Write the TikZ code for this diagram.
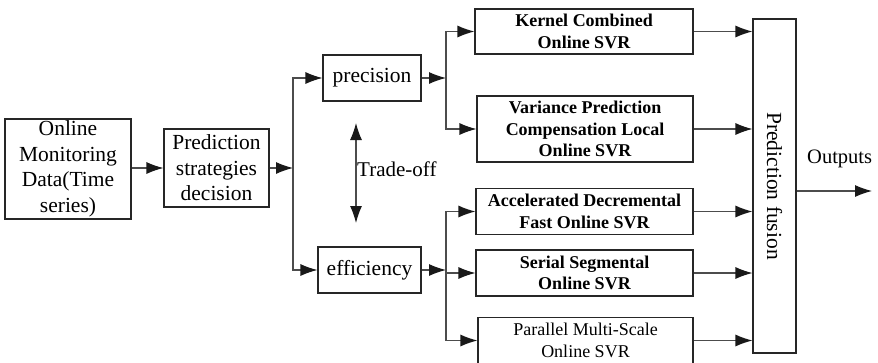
\documentclass[tikz,border=0pt]{standalone}
\usepackage{fontspec}
\setmainfont{Liberation Serif}
\usetikzlibrary{arrows.meta}

\tikzset{
  tip/.tip={Latex[length=17pt,width=12pt,black!90]},
  box/.style={draw=black!85, line width=1.1pt, fill=white, inner sep=0pt, align=center,
              font=\fontsize{21.5}{25.5}\selectfont},
  boldbox/.style={box, font=\fontsize{18}{21.5}\selectfont\bfseries},
  plainbox/.style={box, font=\fontsize{18}{21.5}\selectfont},
  conn/.style={draw=black!70, line width=1.1pt, -tip},
  link/.style={draw=black!70, line width=1.1pt},
  lbl/.style={inner sep=0pt, font=\fontsize{21}{25}\selectfont}
}

\begin{document}
\begin{tikzpicture}[x=1pt, y=-1pt]
  \clip (0,0) rectangle (878,362);
  \fill[white] (0,0) rectangle (878,362);

  % input and strategy selection
  \node[box, minimum width=126pt, minimum height=100pt] (data) at (68,169)
    {Online\\Monitoring\\Data(Time\\series)};
  \node[box, minimum width=105pt, minimum height=78pt] (strat) at (216.5,168)
    {Prediction\\strategies\\decision};

  % the two goals
  \node[box, minimum width=98pt, minimum height=46pt] (prec) at (372,78) {precision};
  \node[box, minimum width=103pt, minimum height=46pt] (eff) at (369.5,270) {efficiency};

  % online SVR variants
  \node[boldbox, minimum width=218pt, minimum height=45pt] (kern) at (584,31.5)
    {Kernel Combined\\Online SVR};
  \node[boldbox, minimum width=216pt, minimum height=66pt] (var) at (585,129)
    {Variance Prediction\\Compensation Local\\Online SVR};
  \node[boldbox, minimum width=217pt, minimum height=46pt] (acc) at (584.5,211.5)
    {Accelerated Decremental\\Fast Online SVR};
  \node[boldbox, minimum width=217pt, minimum height=46pt] (ser) at (584.5,273)
    {Serial Segmental\\Online SVR};
  \node[plainbox, minimum width=215pt, minimum height=46pt] (par) at (585.5,340.5)
    {Parallel Multi-Scale\\Online SVR};

  % fusion stage
  \node[box, minimum width=43pt, minimum height=334pt] (fus) at (774.5,186) {};
  \node[lbl, rotate=-90, font=\fontsize{21.5}{25.5}\selectfont] (fustext) at (fus.center) {Prediction fusion};

  % branch points
  \coordinate (j1) at (293,168);
  \coordinate (j2) at (446,78);
  \coordinate (j3) at (446,270);
  \coordinate (out) at (872,191);

  % connectors
  \draw[conn] (data.east |- strat.west) -- (strat.west);
  \draw[conn] (strat.east) -- (j1);
  \draw[conn] (j1) |- (prec.west);
  \draw[conn] (j1) |- (eff.west);

  \draw[conn] (prec.east) -- (j2);
  \draw[conn] (j2) |- (kern.west);
  \draw[conn] (j2) |- (var.west);

  \draw[conn] (eff.east) -- (j3);
  \draw[conn] (j3) |- (acc.west);
  \draw[conn] (j3) |- (ser.west);
  \draw[conn] (j3) |- (par.west);

  \draw[conn] (kern.east) -- (kern.east -| fus.west);
  \draw[conn] (var.east) -- (var.east -| fus.west);
  \draw[conn] (acc.east) -- (acc.east -| fus.west);
  \draw[conn] (ser.east) -- (ser.east -| fus.west);
  \draw[conn] (par.east) -- (par.east -| fus.west);

  \draw[conn] (fus.east |- out) -- (out);
  \node[lbl, anchor=south west, font=\fontsize{20.5}{24}\selectfont] (outlbl) at (807,168) {Outputs};

  % trade-off between precision and efficiency
  \coordinate (t1) at (356,123);
  \coordinate (t2) at (356,223);
  \draw[link, tip-tip] (t1) -- (t2);
  \node[lbl, anchor=west] (trade) at (357,169) {Trade-off};
\end{tikzpicture}
\end{document}
